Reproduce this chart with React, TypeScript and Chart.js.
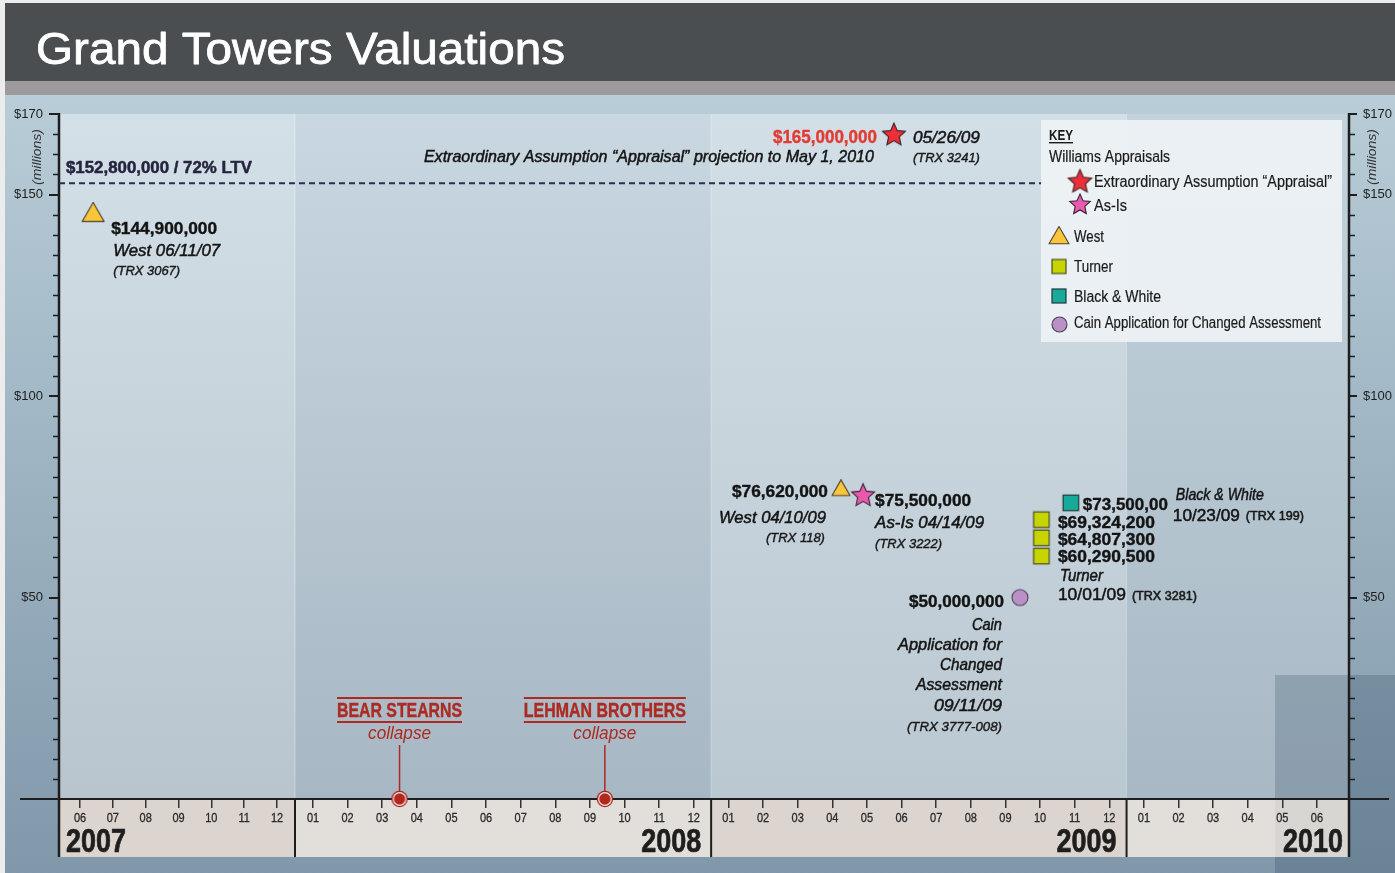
import React, { useEffect, useRef } from 'react';
import { Chart, registerables, LinearScale } from 'chart.js';

const W = 1395;
const H = 873;
const FF = '"Liberation Sans", Arial, Helvetica, sans-serif';

// ---------------- data ----------------
const chartTitle = 'Grand Towers Valuations';
const monthLabels = [
  '06', '07', '08', '09', '10', '11', '12',
  '01', '02', '03', '04', '05', '06', '07', '08', '09', '10', '11', '12',
  '01', '02', '03', '04', '05', '06', '07', '08', '09', '10', '11', '12',
  '01', '02', '03', '04', '05', '06',
];
const firstMonthCenter = 5.5; // June 2007 (months since Jan 2007, centre of month)
const yearLabels = ['2007', '2008', '2009', '2010'];
const yTickValues = [50, 100, 150, 170];
const yMinorStep = 5;
const yMin = 0;
const yMax = 170;

const seriesNames = [
  'Extraordinary Assumption \u201CAppraisal\u201D',
  'As-Is',
  'West',
  'Turner',
  'Black & White',
  'Cain Application for Changed Assessment',
];
// x = months since Jan 2007 (as placed in the picture), y = $ millions
const extraordinaryX = [29.28];
const extraordinaryY = [165.0];
const asIsX = [28.39];
const asIsY = [75.5];
const westX = [5.9, 27.75];
const westY = [144.9, 76.62];
const turnerX = [33.54, 33.54, 33.54];
const turnerY = [69.3242, 64.8073, 60.2905];
const blackWhiteX = [34.39];
const blackWhiteY = [73.5];
const cainX = [32.92];
const cainY = [50.0];

const eventNames = ['BEAR STEARNS', 'LEHMAN BROTHERS'];
const eventSub = ['collapse', 'collapse'];
const eventX = [15.0, 20.93];
const eventY = [0, 0];

const ltvValue = 152.8;
const ltvEndX = 33.55;
const ltvLabel = '$152,800,000 / 72% LTV';

// ---------------- piecewise x scale (2007 is compressed in the original) ----------------
const knots: [number, number][] = [
  [4.86, 0],
  [11.5, 0.16899],
  [12.5, 0.1969],
  [42.425, 1],
];
function v2d(v: number) {
  for (let i = 0; i < knots.length - 1; i++) {
    const [v0, d0] = knots[i];
    const [v1, d1] = knots[i + 1];
    if (v <= v1 || i === knots.length - 2) return d0 + ((v - v0) * (d1 - d0)) / (v1 - v0);
  }
  return 0;
}
function d2v(d: number) {
  for (let i = 0; i < knots.length - 1; i++) {
    const [v0, d0] = knots[i];
    const [v1, d1] = knots[i + 1];
    if (d <= d1 || i === knots.length - 2) return v0 + ((d - d0) * (v1 - v0)) / (d1 - d0);
  }
  return 0;
}
class PiecewiseScale extends (LinearScale as any) {
  static id = 'piecewise';
  getPixelForValue(value: number) {
    return (this as any).getPixelForDecimal(v2d(value));
  }
  getValueForPixel(pixel: number) {
    return d2v((this as any).getDecimalForPixel(pixel));
  }
}
Chart.register(...registerables, PiecewiseScale as any);

// ---------------- marker images ----------------
function mk(s: number) {
  const c = document.createElement('canvas');
  c.width = s;
  c.height = s;
  return c;
}
function starImg(R: number, fill: string, stroke: string) {
  const s = Math.ceil(2 * R + 4);
  const c = mk(s);
  const g = c.getContext('2d')!;
  const cx = s / 2, cy = s / 2 + R * 0.08;
  const r = R * 0.47;
  g.beginPath();
  for (let k = 0; k < 10; k++) {
    const a = -Math.PI / 2 + (k * Math.PI) / 5;
    const rr = k % 2 === 0 ? R : r;
    g.lineTo(cx + rr * Math.cos(a), cy + rr * Math.sin(a));
  }
  g.closePath();
  g.fillStyle = fill;
  g.fill();
  g.lineWidth = 1.1;
  g.strokeStyle = stroke;
  g.stroke();
  return c;
}
function triImg(w: number, fill: string, stroke: string) {
  const h = w * 0.866;
  const s = Math.ceil(w + 4);
  const c = mk(s);
  const g = c.getContext('2d')!;
  const c0 = s / 2;
  g.beginPath();
  g.moveTo(c0, c0 - (2 * h) / 3);
  g.lineTo(c0 + w / 2, c0 + h / 3);
  g.lineTo(c0 - w / 2, c0 + h / 3);
  g.closePath();
  g.fillStyle = fill;
  g.fill();
  g.lineWidth = 1.1;
  g.strokeStyle = stroke;
  g.lineJoin = 'round';
  g.stroke();
  return c;
}
function squareImg(side: number, fill: string, stroke: string) {
  const s = Math.ceil(side + 4);
  const c = mk(s);
  const g = c.getContext('2d')!;
  const o = (s - side) / 2;
  g.fillStyle = fill;
  g.fillRect(o, o, side, side);
  g.lineWidth = 1.2;
  g.strokeStyle = stroke;
  g.strokeRect(o, o, side, side);
  return c;
}
function circleImg(d: number, fill: string, stroke: string) {
  const s = Math.ceil(d + 4);
  const c = mk(s);
  const g = c.getContext('2d')!;
  g.beginPath();
  g.arc(s / 2, s / 2, d / 2, 0, Math.PI * 2);
  g.fillStyle = fill;
  g.fill();
  g.lineWidth = 1.1;
  g.strokeStyle = stroke;
  g.stroke();
  return c;
}
function eventImg() {
  const s = 20;
  const c = mk(s);
  const g = c.getContext('2d')!;
  const f = (r: number, col: string) => {
    g.beginPath();
    g.arc(s / 2, s / 2, r, 0, Math.PI * 2);
    g.fillStyle = col;
    g.fill();
  };
  f(8.2, '#a3231b');
  f(6.9, '#f4e9e6');
  f(5.7, '#b2281e');
  return c;
}

// ---------------- text helper ----------------
const FONTS: Record<string, any> = {
  val: { size: 17, weight: 'bold', color: '#141414', stroke: 0.4 },
  valRed: { size: 17.5, weight: 'bold', color: '#e23c35', stroke: 0.4 },
  it: { size: 17, style: 'italic', color: '#141414', stroke: 0.5 },
  it16: { size: 16.5, style: 'italic', color: '#141414', stroke: 0.5 },
  itS: { size: 12.5, style: 'italic', color: '#1a1a1a', stroke: 0.4 },
  reg: { size: 17, color: '#141414', stroke: 0.5 },
  regS: { size: 13, color: '#1a1a1a', stroke: 0.6 },
  ev: { size: 19.5, weight: 'bold', color: '#ad2a22', stroke: 0.4 },
  evIt: { size: 18, style: 'italic', color: '#ad2a22' },
  leg: { size: 16, color: '#1a1a1a', stroke: 0.2 },
  key: { size: 15, weight: 'bold', color: '#1a1a1a' },
  ltv: { size: 16.5, weight: 'bold', color: '#26253f', stroke: 0.5 },
  month: { size: 12.5, color: '#2a2a2a', stroke: 0.3 },
  year: { size: 33, weight: 'bold', color: '#1e1e1e', stroke: 0.7 },
  mil: { size: 13.5, style: 'italic', color: '#333333' },
  title: { size: 45, color: '#ffffff', stroke: 0.8 },
};
function drawText(
  ctx: CanvasRenderingContext2D,
  s: string,
  x: number,
  y: number,
  key: string,
  align: CanvasTextAlign = 'left',
  width?: number,
  sx?: number
) {
  const f = FONTS[key];
  ctx.save();
  ctx.font = `${f.style || 'normal'} ${f.weight || 'normal'} ${f.size}px ${FF}`;
  let k = sx ?? 1;
  if (width) k = width / ctx.measureText(s).width;
  ctx.translate(x, y);
  ctx.scale(k, 1);
  ctx.textAlign = align;
  ctx.textBaseline = 'alphabetic';
  ctx.fillStyle = f.color;
  ctx.fillText(s, 0, 0);
  if (f.stroke) {
    ctx.strokeStyle = f.color;
    ctx.lineWidth = f.stroke;
    ctx.lineJoin = 'round';
    ctx.strokeText(s, 0, 0);
  }
  ctx.restore();
}

// annotation layout: [text, dx, dy(baseline), width, font, align], relative to a data point
type Ann = { ds: number; i: number; lines: [string, number, number, number, string, CanvasTextAlign][] };
const annotations: Ann[] = [
  {
    ds: 2, i: 0, lines: [
      ['$144,900,000', 18, 18.9, 106, 'val', 'left'],
      ['West 06/11/07', 20, 40.9, 107, 'it', 'left'],
      ['(TRX 3067)', 20, 59.9, 67, 'itS', 'left'],
    ],
  },
  {
    ds: 0, i: 0, lines: [
      ['$165,000,000', -17, 8.9, 104, 'valRed', 'right'],
      ['Extraordinary Assumption \u201CAppraisal\u201D projection to May 1, 2010', -20, 27.9, 450, 'it16', 'right'],
      ['05/26/09', 19, 8.9, 67, 'it', 'left'],
      ['(TRX 3241)', 19, 27.9, 67, 'itS', 'left'],
    ],
  },
  {
    ds: 2, i: 1, lines: [
      ['$76,620,000', -13, 6.7, 96, 'val', 'right'],
      ['West 04/10/09', -15, 32.7, 107, 'it', 'right'],
      ['(TRX 118)', -16, 51.7, 59, 'itS', 'right'],
    ],
  },
  {
    ds: 1, i: 0, lines: [
      ['$75,500,000', 12, 11.2, 96, 'val', 'left'],
      ['As-Is 04/14/09', 12, 33.2, 109, 'it', 'left'],
      ['(TRX 3222)', 12, 53.2, 67, 'itS', 'left'],
    ],
  },
  {
    ds: 4, i: 0, lines: [
      ['$73,500,00', 12, 7.2, 85, 'val', 'left'],
      ['Black & White', 105, -2.8, 88, 'it', 'left'],
      ['10/23/09', 102, 18.2, 67, 'reg', 'left'],
      ['(TRX 199)', 175, 17.2, 58, 'regS', 'left'],
    ],
  },
  { ds: 3, i: 0, lines: [['$69,324,200', 16.5, 8.3, 97, 'val', 'left']] },
  { ds: 3, i: 1, lines: [['$64,807,300', 16.5, 7.1, 97, 'val', 'left']] },
  {
    ds: 3, i: 2, lines: [
      ['$60,290,500', 16.5, 5.9, 97, 'val', 'left'],
      ['Turner', 18.5, 24.9, 43, 'it', 'left'],
      ['10/01/09', 16.5, 43.9, 68, 'reg', 'left'],
      ['(TRX 3281)', 90.5, 43.9, 65, 'regS', 'left'],
    ],
  },
  {
    ds: 5, i: 0, lines: [
      ['$50,000,000', -16, 9.5, 95, 'val', 'right'],
      ['Cain', -18, 32.5, 30, 'it', 'right'],
      ['Application for', -18, 52.5, 104, 'it', 'right'],
      ['Changed', -18, 72.5, 62, 'it', 'right'],
      ['Assessment', -18, 92.5, 86, 'it', 'right'],
      ['09/11/09', -18, 113.5, 68, 'it', 'right'],
      ['(TRX 3777-008)', -18, 133.5, 95, 'itS', 'right'],
    ],
  },
];
const eventWidths = [125, 162];

export default function App() {
  const ref = useRef<HTMLCanvasElement>(null);

  useEffect(() => {
    document.body.style.margin = '0';
    const canvas = ref.current!;
    const im = {
      redStar: starImg(12, '#ec2f39', '#3b1f22'),
      pinkStar: starImg(12, '#e85aae', '#3b2236'),
      triBig: triImg(22, '#f9c53b', '#4d4334'),
      triSmall: triImg(18, '#f9c53b', '#4d4334'),
      lime: squareImg(15.5, '#c7d400', '#4a4c1e'),
      teal: squareImg(15.5, '#17a99a', '#1f3a37'),
      cain: circleImg(16, '#ba90c7', '#4d4256'),
      event: eventImg(),
      legRed: starImg(12.3, '#ec2f39', '#3b1f22'),
      legPink: starImg(10.8, '#e85aae', '#3b2236'),
      legTri: triImg(20, '#f9c53b', '#4d4334'),
      legLime: squareImg(14, '#c7d400', '#4a4c1e'),
      legTeal: squareImg(14, '#17a99a', '#1f3a37'),
      legCain: circleImg(15, '#ba90c7', '#4d4256'),
    };

    const pts = (xs: number[], ys: number[]) => xs.map((x, i) => ({ x, y: ys[i] }));
    const yearStart = (i: number) => (i + 1) * 12; // boundary after year i

    const bgPlugin = {
      id: 'bg',
      beforeDraw(chart: any) {
        const { ctx, chartArea: ca, scales } = chart;
        const x = scales.x;
        ctx.save();
        ctx.fillStyle = '#ececec';
        ctx.fillRect(0, 0, W, H);
        ctx.fillStyle = '#4a4e51';
        ctx.fillRect(5, 3, W - 5, 78);
        ctx.fillStyle = '#9b9b9e';
        ctx.fillRect(5, 81, W - 5, 14);
        let g = ctx.createLinearGradient(0, 95, 0, H);
        g.addColorStop(0, '#b9cdd8');
        g.addColorStop(1, '#8098aa');
        ctx.fillStyle = g;
        ctx.fillRect(5, 95, W - 5, H - 95);

        const edges = [ca.left, ...yearLabels.slice(0, -1).map((_, i) => x.getPixelForValue(yearStart(i))), ca.right];
        const bandCols = [
          ['#d4e0e8', '#b8c5ce'],
          ['#c9d7e1', '#a7b7c3'],
          ['#d3dfe7', '#bac8d1'],
          ['#c3d3dd', '#a8b9c5'],
        ];
        for (let i = 0; i < 4; i++) {
          g = ctx.createLinearGradient(0, ca.top, 0, ca.bottom);
          g.addColorStop(0, bandCols[i][0]);
          g.addColorStop(1, bandCols[i][1]);
          ctx.fillStyle = g;
          ctx.fillRect(edges[i], ca.top, edges[i + 1] - edges[i], ca.bottom - ca.top);
        }
        ctx.fillStyle = 'rgba(255,255,255,0.35)';
        for (let i = 1; i < 4; i++) ctx.fillRect(edges[i] - 0.5, ca.top, 1, ca.bottom - ca.top);

        // dark overlay at lower right
        ctx.fillStyle = 'rgba(25,50,75,0.2)';
        ctx.fillRect(1275, 675, W - 1275, ca.bottom - 675);
        ctx.fillRect(1275, 857, W - 1275, H - 857);
        ctx.fillRect(ca.right, ca.bottom, W - ca.right, 857 - ca.bottom);

        // month band
        const tickCols = ['#dcd4ce', '#e2dfda', '#dcd4ce', '#e2dfda'];
        for (let i = 0; i < 4; i++) {
          ctx.fillStyle = tickCols[i];
          ctx.fillRect(edges[i], ca.bottom, edges[i + 1] - edges[i], 857 - ca.bottom);
        }
        ctx.fillStyle = 'rgba(25,50,75,0.05)';
        ctx.fillRect(1275, ca.bottom, ca.right - 1275, 857 - ca.bottom);

        drawText(ctx, chartTitle, 36, 64, 'title', 'left', 529);
        ctx.restore();
      },
      beforeDatasetsDraw(chart: any) {
        const { ctx, chartArea: ca, scales } = chart;
        const x = scales.x, y = scales.y;
        ctx.save();
        ctx.strokeStyle = '#1e1e1e';
        // minor ticks
        ctx.lineWidth = 1.5;
        for (let v = yMin + yMinorStep; v < yMax; v += yMinorStep) {
          if (yTickValues.includes(v)) continue;
          const py = Math.round(y.getPixelForValue(v)) + 0.5;
          ctx.beginPath();
          ctx.moveTo(ca.left - 6, py);
          ctx.lineTo(ca.left, py);
          ctx.moveTo(ca.right, py);
          ctx.lineTo(ca.right + 6, py);
          ctx.stroke();
        }
        // axes
        ctx.lineWidth = 2.5;
        ctx.beginPath();
        ctx.moveTo(ca.left, ca.top - 1);
        ctx.lineTo(ca.left, 857);
        ctx.moveTo(ca.right, ca.top - 1);
        ctx.lineTo(ca.right, 857);
        ctx.stroke();
        ctx.lineWidth = 2.2;
        ctx.beginPath();
        ctx.moveTo(20, ca.bottom);
        ctx.lineTo(1389, ca.bottom);
        ctx.stroke();
        ctx.lineWidth = 2;
        ctx.beginPath();
        for (let i = 0; i < yearLabels.length - 1; i++) {
          const px = x.getPixelForValue(yearStart(i));
          ctx.moveTo(px, ca.bottom);
          ctx.lineTo(px, 857);
        }
        ctx.stroke();
        // event stems
        const meta = chart.getDatasetMeta(6);
        ctx.strokeStyle = '#ad2a22';
        ctx.lineWidth = 1.5;
        meta.data.forEach((p: any) => {
          ctx.beginPath();
          ctx.moveTo(p.x, p.y - 8);
          ctx.lineTo(p.x, p.y - 54);
          ctx.stroke();
        });
        ctx.restore();
      },
      afterDraw(chart: any) {
        const { ctx, chartArea: ca, scales } = chart;
        const x = scales.x, y = scales.y;
        ctx.save();
        // month labels
        x.ticks.forEach((t: any, i: number) => {
          drawText(ctx, monthLabels[i], x.getPixelForValue(t.value), 821.5, 'month', 'center', undefined, 0.88);
        });
        // year labels
        drawText(ctx, yearLabels[0], ca.left + 7, 852, 'year', 'left', 60);
        for (let i = 1; i < yearLabels.length; i++) {
          const right = i < yearLabels.length - 1 ? x.getPixelForValue(yearStart(i)) - 10 : ca.right - 6;
          drawText(ctx, yearLabels[i], right, 852, 'year', 'right', 60);
        }
        // (millions)
        for (const cx of [37, 1372]) {
          ctx.save();
          ctx.translate(cx + 4, 157);
          ctx.rotate(-Math.PI / 2);
          drawText(ctx, '(millions)', 0, 0, 'mil', 'center', 56);
          ctx.restore();
        }
        // LTV label
        drawText(ctx, ltvLabel, ca.left + 7, y.getPixelForValue(ltvValue) - 10.3, 'ltv', 'left', 186);
        // annotations
        annotations.forEach((a) => {
          const p = chart.getDatasetMeta(a.ds).data[a.i];
          a.lines.forEach(([t, dx, dy, w, f, al]) => drawText(ctx, t, p.x + dx, p.y + dy, f, al, w));
        });
        // events
        chart.getDatasetMeta(6).data.forEach((p: any, i: number) => {
          const w = eventWidths[i];
          drawText(ctx, eventNames[i], p.x, p.y - 82, 'ev', 'center', w);
          ctx.fillStyle = '#ad2a22';
          ctx.fillRect(p.x - w / 2, p.y - 102, w, 2);
          ctx.fillRect(p.x - w / 2, p.y - 78, w, 2);
          drawText(ctx, eventSub[i], p.x, p.y - 60, 'evIt', 'center', 63);
        });
        // legend (key)
        const L = { x: 1041, y: 120, w: 301, h: 222 };
        ctx.fillStyle = 'rgba(238,242,245,0.92)';
        ctx.fillRect(L.x, L.y, L.w, L.h);
        drawText(ctx, 'KEY', L.x + 8, L.y + 20, 'key', 'left', 24);
        ctx.fillStyle = '#1a1a1a';
        ctx.fillRect(L.x + 8, L.y + 22, 24, 1.4);
        drawText(ctx, 'Williams Appraisals', L.x + 8, L.y + 42, 'leg', 'left', 121);
        const items: [HTMLCanvasElement, number, number, number, number, number][] = [
          [im.legRed, 39, 61, 53, 67, 238],
          [im.legPink, 39, 84, 53, 91, 33],
          [im.legTri, 18, 118, 33, 122, 30],
          [im.legLime, 18, 146.5, 33, 152, 39],
          [im.legTeal, 18, 176, 33, 182, 87],
          [im.legCain, 18.5, 204.5, 33, 208, 247],
        ];
        items.forEach(([img, cx, cy, tx, ty, w], i) => {
          ctx.drawImage(img, L.x + cx - img.width / 2, L.y + cy - img.height / 2);
          drawText(ctx, seriesNames[i], L.x + tx, L.y + ty, 'leg', 'left', w);
        });
        ctx.restore();
      },
    };

    const pointDs = (label: string, data: any[], style: any) => ({
      label,
      data,
      pointStyle: style,
      pointRadius: 9,
      showLine: false,
      clip: false as any,
    });

    const yScaleCommon = {
      min: yMin,
      max: yMax,
      afterBuildTicks: (s: any) => {
        s.ticks = yTickValues.map((v) => ({ value: v }));
      },
      ticks: {
        callback: (v: any) => '$' + v,
        font: { family: FF, size: 13 },
        color: '#1e1e1e',
        padding: 6,
      },
      border: { display: false },
    };

    const chart = new Chart(canvas, {
      type: 'scatter',
      data: {
        datasets: [
          pointDs(seriesNames[0], pts(extraordinaryX, extraordinaryY), im.redStar),
          pointDs(seriesNames[1], pts(asIsX, asIsY), im.pinkStar),
          pointDs(seriesNames[2], pts(westX, westY), [im.triBig, im.triSmall]),
          pointDs(seriesNames[3], pts(turnerX, turnerY), im.lime),
          pointDs(seriesNames[4], pts(blackWhiteX, blackWhiteY), im.teal),
          pointDs(seriesNames[5], pts(cainX, cainY), im.cain),
          pointDs('Events', pts(eventX, eventY), im.event),
          {
            label: 'LTV',
            data: [
              { x: knots[0][0], y: ltvValue },
              { x: ltvEndX, y: ltvValue },
            ],
            showLine: true,
            pointRadius: 0,
            borderColor: '#2d2c4c',
            borderWidth: 2,
            borderDash: [6, 4],
            clip: false as any,
          } as any,
        ],
      },
      options: {
        animation: false,
        responsive: false,
        events: [],
        layout: { padding: { top: 114, left: 0, right: 0, bottom: 0 } },
        plugins: { legend: { display: false }, tooltip: { enabled: false }, title: { display: false } },
        scales: {
          x: {
            type: 'piecewise' as any,
            position: 'bottom',
            min: knots[0][0],
            max: knots[knots.length - 1][0],
            afterBuildTicks: (s: any) => {
              s.ticks = monthLabels.map((_, i) => ({ value: firstMonthCenter + i }));
            },
            ticks: { display: false },
            grid: { drawOnChartArea: false, drawTicks: true, tickLength: 9, color: '#333333', lineWidth: 1.5 },
            border: { display: false },
            afterFit: (s: any) => {
              s.height = H - 799;
            },
          } as any,
          y: {
            ...yScaleCommon,
            position: 'left',
            grid: { drawOnChartArea: false, drawTicks: true, tickLength: 10, color: '#1e1e1e', lineWidth: 2 },
            afterFit: (s: any) => {
              s.width = 59;
            },
          } as any,
          y2: {
            ...yScaleCommon,
            position: 'right',
            grid: { drawOnChartArea: false, drawTicks: true, tickLength: 8, color: '#1e1e1e', lineWidth: 2 },
            afterFit: (s: any) => {
              s.width = W - 1349;
            },
          } as any,
        },
      },
      plugins: [bgPlugin],
    } as any);

    return () => chart.destroy();
  }, []);

  return <canvas ref={ref} width={W} height={H} style={{ display: 'block' }} />;
}
